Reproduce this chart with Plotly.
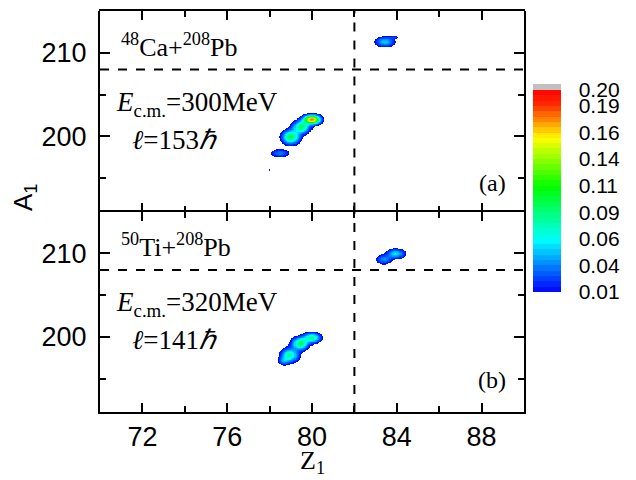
import numpy as np
import plotly.graph_objects as go
from plotly.subplots import make_subplots

# ---- data: density peaks (Z, A, peak value, sigma_Z, sigma_A)
peaks_a_Z = [83.45, 83.90, 80.00, 79.50, 79.00, 78.50, 81.55, 78.00]
peaks_a_A = [211.30, 211.85, 202.00, 201.10, 199.90, 198.00, 204.60, 196.00]
peaks_a_P = [0.050, 0.020, 0.175, 0.090, 0.095, 0.034, 0.0115, 0.0115]
peaks_a_sZ = [0.28, 0.14, 0.25, 0.25, 0.26, 0.28, 0.04, 0.05]
peaks_a_sA = [0.38, 0.12, 0.34, 0.48, 0.52, 0.30, 0.10, 0.08]

peaks_b_Z = [83.95, 83.40, 80.00, 79.45, 78.95, 78.65]
peaks_b_A = [209.95, 209.25, 199.90, 199.20, 197.80, 197.10]
peaks_b_P = [0.055, 0.036, 0.078, 0.092, 0.078, 0.030]
peaks_b_sZ = [0.27, 0.23, 0.26, 0.24, 0.26, 0.17]
peaks_b_sA = [0.36, 0.36, 0.37, 0.47, 0.52, 0.30]

z_ticks = [72, 76, 80, 84, 88]
a_ticks = [200, 210]
cbar_vals = [0.01, 0.035, 0.06, 0.085, 0.11, 0.135, 0.16, 0.185, 0.20]
cbar_text = ["0.01", "0.04", "0.06", "0.09", "0.11", "0.14", "0.16", "0.19", "0.20"]

Zg = np.arange(76.0, 86.0001, 0.05)
Ag = np.arange(193.0, 214.0001, 0.08)


def field(Zs, As, Ps, sZ, sA):
    ZZ, AA = np.meshgrid(Zg, Ag)
    f = np.zeros_like(ZZ)
    for z0, a0, p, sz, sa in zip(Zs, As, Ps, sZ, sA):
        f += p * np.exp(-0.5 * (((ZZ - z0) / sz) ** 2 + ((AA - a0) / sa) ** 2))
    out = np.where(f >= 0.01, np.minimum(f, 0.2), np.nan)
    return [[None if np.isnan(v) else round(float(v), 4) for v in row] for row in out]


za = field(peaks_a_Z, peaks_a_A, peaks_a_P, peaks_a_sZ, peaks_a_sA)
zb = field(peaks_b_Z, peaks_b_A, peaks_b_P, peaks_b_sZ, peaks_b_sA)

# stepped jet-like colour scale
anc_pos = [0.0, 0.256, 0.52, 0.76, 0.83, 0.93, 1.0]
anc_col = [(0, 0, 255), (0, 255, 255), (0, 255, 0), (255, 255, 0), (255, 165, 0), (255, 40, 0), (255, 0, 0)]


def jet(t):
    for i in range(len(anc_pos) - 1):
        if anc_pos[i] <= t <= anc_pos[i + 1]:
            u = (t - anc_pos[i]) / (anc_pos[i + 1] - anc_pos[i])
            c = [round(anc_col[i][k] + u * (anc_col[i + 1][k] - anc_col[i][k])) for k in range(3)]
            return "rgb(%d,%d,%d)" % tuple(c)
    return "rgb(255,0,0)"


n = 38
cs = []
for i in range(n):
    c = jet((i + 0.5) / n)
    cs.append([i / n, c])
    cs.append([(i + 1) / n, c])

fig = make_subplots(rows=2, cols=1, shared_xaxes=True, vertical_spacing=0)
fig.add_trace(go.Heatmap(x=Zg, y=Ag, z=za, coloraxis="coloraxis", zsmooth=False, hoverongaps=False), row=1, col=1)
fig.add_trace(go.Heatmap(x=Zg, y=Ag, z=zb, coloraxis="coloraxis", zsmooth=False, hoverongaps=False), row=2, col=1)

L, R, T, B = 100, 112, 11, 68
W, H = 636, 480
pw, ph = W - L - R, H - T - B


def px(x):
    return (x - L) / pw


def py(y):
    return (H - B - y) / ph


fig.update_layout(
    width=W, height=H,
    margin=dict(l=L, r=R, t=T, b=B),
    paper_bgcolor="white", plot_bgcolor="white",
    showlegend=False,
    font=dict(family="Arial, Liberation Sans", size=27, color="black"),
    yaxis=dict(domain=[0.5, 1.0]),
    yaxis2=dict(domain=[0.0, 0.5]),
    coloraxis=dict(
        colorscale=cs, cmin=0.01, cmax=0.20,
        colorbar=dict(
            x=px(533), xanchor="left", xpad=0,
            y=py(191), yanchor="middle", ypad=0,
            thickness=28, lenmode="pixels", len=202,
            outlinewidth=0,
            tickmode="array", tickvals=cbar_vals, ticktext=cbar_text,
            ticks="outside", ticklen=14, tickcolor="rgba(0,0,0,0)",
            tickfont=dict(family="Arial, Liberation Sans", size=21, color="black"),
        ),
    ),
)

axcommon = dict(linewidth=2, linecolor="black", mirror="ticks",
                ticks="inside", tickwidth=2, tickcolor="black", showgrid=False, zeroline=False)
for r in (1, 2):
    fig.update_xaxes(range=[70, 90], tickmode="array", tickvals=z_ticks, ticklen=9,
                     minor=dict(tickmode="array", tickvals=[74, 78, 82, 86], ticklen=6,
                                tickwidth=2, tickcolor="black", ticks="inside"),
                     showline=(r == 2),
                     showticklabels=(r == 2), row=r, col=1, **axcommon)
    fig.update_yaxes(range=[191, 215], tickmode="array", tickvals=a_ticks, ticklen=10,
                     minor=dict(tickmode="array", tickvals=[195, 205], ticklen=6,
                                tickwidth=2, tickcolor="black", ticks="inside"),
                     showline=True,
                     ticklabelstandoff=6, row=r, col=1, **axcommon)

# top frame edge of panel (a) (its x axis line is hidden so the middle divider is single)
fig.add_shape(type="line", xref="paper", yref="paper", x0=-1.0 / pw, x1=1 + 1.0 / pw, y0=1 + 1.0 / ph, y1=1 + 1.0 / ph,
              line=dict(color="black", width=2))

# dashed guide lines
dash = dict(color="black", width=2, dash="dash")
fig.add_shape(type="line", xref="x", yref="y", x0=70, x1=90, y0=208, y1=208, line=dash)
fig.add_shape(type="line", xref="x2", yref="y2", x0=70, x1=90, y0=208, y1=208, line=dash)
fig.add_shape(type="line", xref="x", yref="y", x0=82, x1=82, y0=191, y1=215, line=dash)
fig.add_shape(type="line", xref="x2", yref="y2", x0=82, x1=82, y0=191, y1=215, line=dash)

# grey over-range box of the colour bar
fig.add_shape(type="rect", xref="paper", yref="paper", x0=px(533), x1=px(561), y0=py(90), y1=py(84),
              fillcolor="#c0c0c0", line=dict(width=0))

serif = "Liberation Serif, Times New Roman, serif"


def ann(text, x, y, xa="left", size=24, fam=serif, angle=0):
    fig.add_annotation(text=text, xref="paper", yref="paper", x=px(x), y=py(y), xanchor=xa,
                       yanchor="middle", showarrow=False, textangle=angle,
                       font=dict(family=fam, size=size, color="black"))


ann("<sup>48</sup>Ca+<sup>208</sup>Pb", 119, 45, size=26)
ann("<i>E</i><sub>c.m.</sub>=300MeV", 114, 104, size=27)
ann("<i>ℓ</i>=153<i>ℏ</i>", 130, 140, size=27)
ann("(a)", 508, 183, xa="right", size=24)
ann("<sup>50</sup>Ti+<sup>208</sup>Pb", 119, 245, size=26)
ann("<i>E</i><sub>c.m.</sub>=320MeV", 114, 304, size=27)
ann("<i>ℓ</i>=141<i>ℏ</i>", 130, 340, size=27)
ann("(b)", 508, 380, xa="right", size=24)
ann("Z<sub>1</sub>", 312, 462, xa="center", size=26)
fig.add_annotation(text="A<sub>1</sub>", xref="paper", yref="paper", x=px(24), y=py(198),
                   xanchor="center", yanchor="middle", showarrow=False, textangle=-90,
                   font=dict(family="Arial, Liberation Sans", size=26, color="black"))

fig.write_html("out.html")
